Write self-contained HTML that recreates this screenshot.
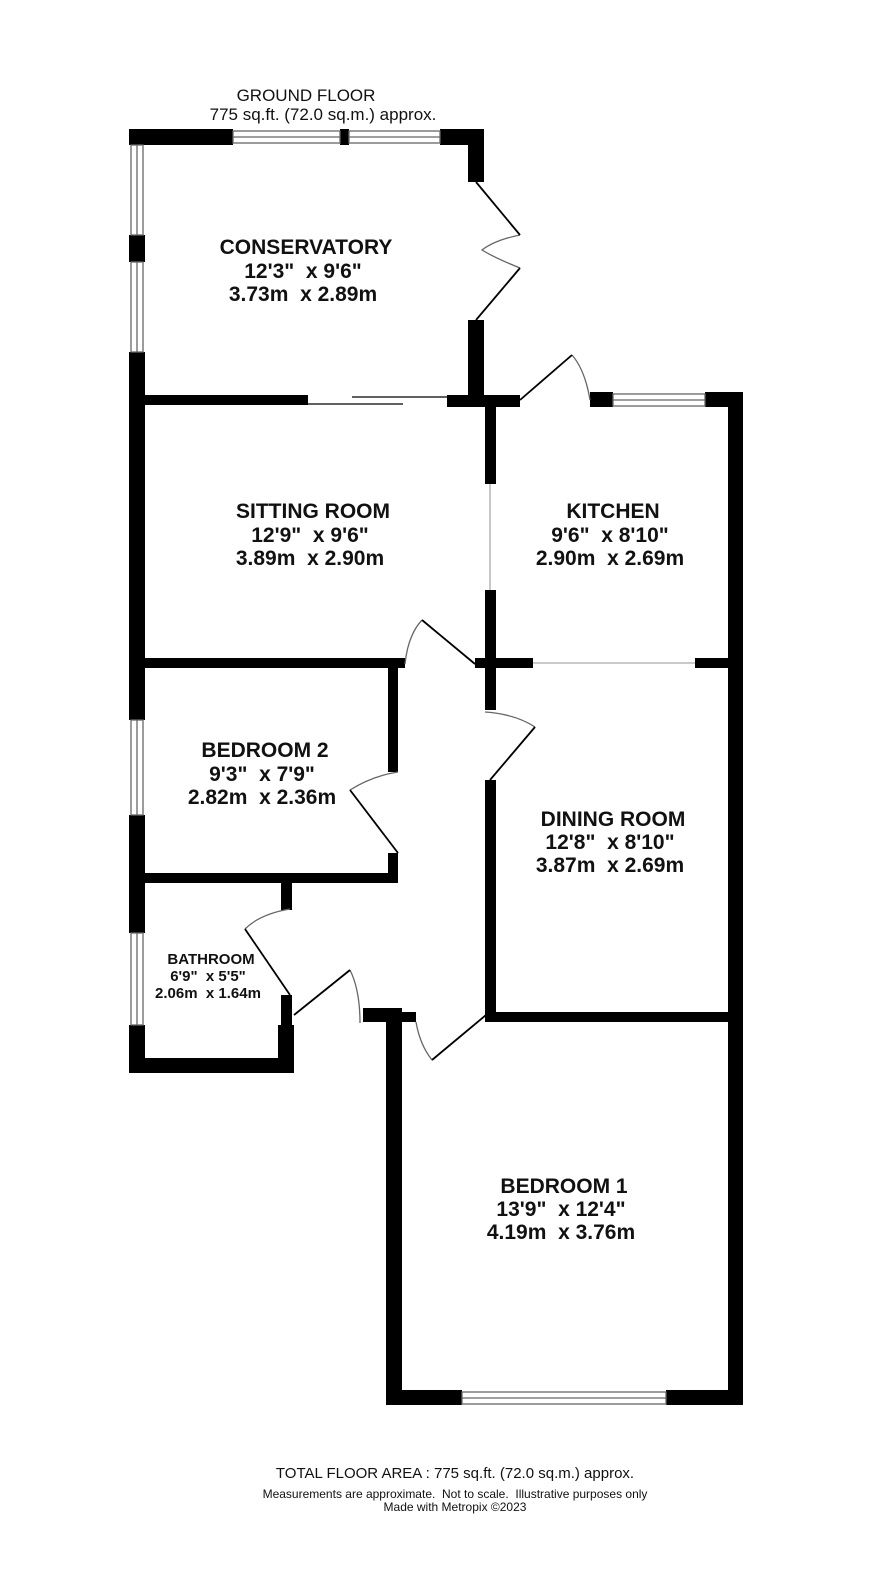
<!DOCTYPE html>
<html><head><meta charset="utf-8"><style>
body{margin:0;background:#fff}
svg{display:block}
text{font-family:"Liberation Sans",Arial,sans-serif;fill:#111;white-space:pre}
.b{font-weight:bold;font-size:21px;text-anchor:middle}
.s{font-weight:bold;font-size:15px;text-anchor:middle}
</style></head><body>
<svg width="886" height="1593" viewBox="0 0 886 1593" xmlns="http://www.w3.org/2000/svg">
<g fill="#000">
<rect x="129" y="129" width="16" height="16"/>
<rect x="129" y="235" width="16" height="27"/>
<rect x="129" y="352" width="16" height="368"/>
<rect x="129" y="815" width="16" height="118"/>
<rect x="129" y="1025" width="16" height="48"/>
<rect x="129" y="129" width="104" height="16"/>
<rect x="340" y="129" width="9" height="16"/>
<rect x="440" y="129" width="44" height="16"/>
<rect x="468" y="129" width="16" height="53"/>
<rect x="468" y="320" width="16" height="87"/>
<rect x="145" y="395" width="163" height="10"/>
<rect x="447" y="395" width="73" height="12"/>
<rect x="590" y="392" width="23" height="15"/>
<rect x="705" y="392" width="37" height="15"/>
<rect x="728" y="392" width="15" height="1013"/>
<rect x="485" y="395" width="11" height="89"/>
<rect x="485" y="590" width="11" height="120"/>
<rect x="145" y="658" width="260" height="10"/>
<rect x="475" y="658" width="58" height="10"/>
<rect x="695" y="658" width="33" height="10"/>
<rect x="485" y="780" width="11" height="240"/>
<rect x="485" y="1012" width="243" height="10"/>
<rect x="388" y="668" width="10" height="104"/>
<rect x="388" y="853" width="10" height="30"/>
<rect x="145" y="873" width="253" height="10"/>
<rect x="281" y="883" width="11" height="27"/>
<rect x="281" y="995" width="11" height="30"/>
<rect x="278" y="1025" width="16" height="48"/>
<rect x="129" y="1058" width="165" height="15"/>
<rect x="363" y="1008" width="39" height="14"/>
<rect x="402" y="1012" width="14" height="10"/>
<rect x="386" y="1008" width="16" height="397"/>
<rect x="386" y="1390" width="76" height="15"/>
<rect x="666" y="1390" width="77" height="15"/>
</g>
<g fill="none" stroke="#666" stroke-width="1.3">
<rect x="233" y="131" width="107" height="12"/><line x1="233" y1="137" x2="340" y2="137"/>
<rect x="349" y="131" width="91" height="12"/><line x1="349" y1="137" x2="440" y2="137"/>
<rect x="131" y="145" width="12" height="90"/><line x1="137" y1="145" x2="137" y2="235"/>
<rect x="131" y="262" width="12" height="90"/><line x1="137" y1="262" x2="137" y2="352"/>
<rect x="131" y="720" width="12" height="95"/><line x1="137" y1="720" x2="137" y2="815"/>
<rect x="131" y="933" width="12" height="92"/><line x1="137" y1="933" x2="137" y2="1025"/>
<rect x="613" y="394" width="92" height="12"/><line x1="613" y1="400" x2="705" y2="400"/>
<rect x="462" y="1392" width="204" height="12"/><line x1="462" y1="1398" x2="666" y2="1398"/>
<line x1="490" y1="484" x2="490" y2="590" stroke="#aaa"/>
<line x1="533" y1="663" x2="695" y2="663" stroke="#aaa"/>
<path d="M520,235 Q495,240 482,250 Q495,258 520,268"/>
<path d="M572,355 Q585,370 590,400"/>
<path d="M405,664 Q408,635 422,620"/>
<path d="M485,712 Q515,714 535,727"/>
<path d="M398,772 Q372,776 350,790"/>
<path d="M290,909 Q260,914 245,929"/>
<path d="M350,970 Q360,990 360,1023"/>
<path d="M416,1022 Q420,1045 432,1060"/>
</g>
<g fill="none" stroke="#000" stroke-width="1.8">
<line x1="476" y1="182" x2="520" y2="235"/>
<line x1="476" y1="320" x2="520" y2="268"/>
<line x1="520" y1="400" x2="572" y2="355"/>
<line x1="422" y1="620" x2="475" y2="664"/>
<line x1="535" y1="727" x2="490" y2="780"/>
<line x1="350" y1="790" x2="398" y2="853"/>
<line x1="245" y1="929" x2="290" y2="995"/>
<line x1="294" y1="1015" x2="350" y2="970"/>
<line x1="432" y1="1060" x2="486" y2="1015"/>
<line x1="308" y1="404" x2="403" y2="404" stroke-width="1.3"/>
<line x1="352" y1="397" x2="447" y2="397" stroke-width="1.3"/>
</g>
<text x="306" y="101" font-size="17" text-anchor="middle">GROUND FLOOR</text>
<text x="323" y="120" font-size="17" text-anchor="middle">775 sq.ft. (72.0 sq.m.) approx.</text>
<text class="b" x="306" y="254">CONSERVATORY</text>
<text class="b" x="303" y="278">12'3"  x 9'6"</text>
<text class="b" x="303" y="301">3.73m  x 2.89m</text>
<text class="b" x="313" y="518">SITTING ROOM</text>
<text class="b" x="310" y="542">12'9"  x 9'6"</text>
<text class="b" x="310" y="565">3.89m  x 2.90m</text>
<text class="b" x="613" y="518">KITCHEN</text>
<text class="b" x="610" y="542">9'6"  x 8'10"</text>
<text class="b" x="610" y="565">2.90m  x 2.69m</text>
<text class="b" x="265" y="757">BEDROOM 2</text>
<text class="b" x="262" y="781">9'3"  x 7'9"</text>
<text class="b" x="262" y="804">2.82m  x 2.36m</text>
<text class="b" x="613" y="826">DINING ROOM</text>
<text class="b" x="610" y="849">12'8"  x 8'10"</text>
<text class="b" x="610" y="872">3.87m  x 2.69m</text>
<text class="s" x="211" y="964">BATHROOM</text>
<text class="s" x="208" y="981">6'9"  x 5'5"</text>
<text class="s" x="208" y="998">2.06m  x 1.64m</text>
<text class="b" x="564" y="1193">BEDROOM 1</text>
<text class="b" x="561" y="1216">13'9"  x 12'4"</text>
<text class="b" x="561" y="1239">4.19m  x 3.76m</text>
<text x="455" y="1478" font-size="15" text-anchor="middle">TOTAL FLOOR AREA : 775 sq.ft. (72.0 sq.m.) approx.</text>
<text x="455" y="1498" font-size="12" text-anchor="middle">Measurements are approximate.  Not to scale.  Illustrative purposes only</text>
<text x="455" y="1511" font-size="12" text-anchor="middle">Made with Metropix ©2023</text>
</svg>
</body></html>
